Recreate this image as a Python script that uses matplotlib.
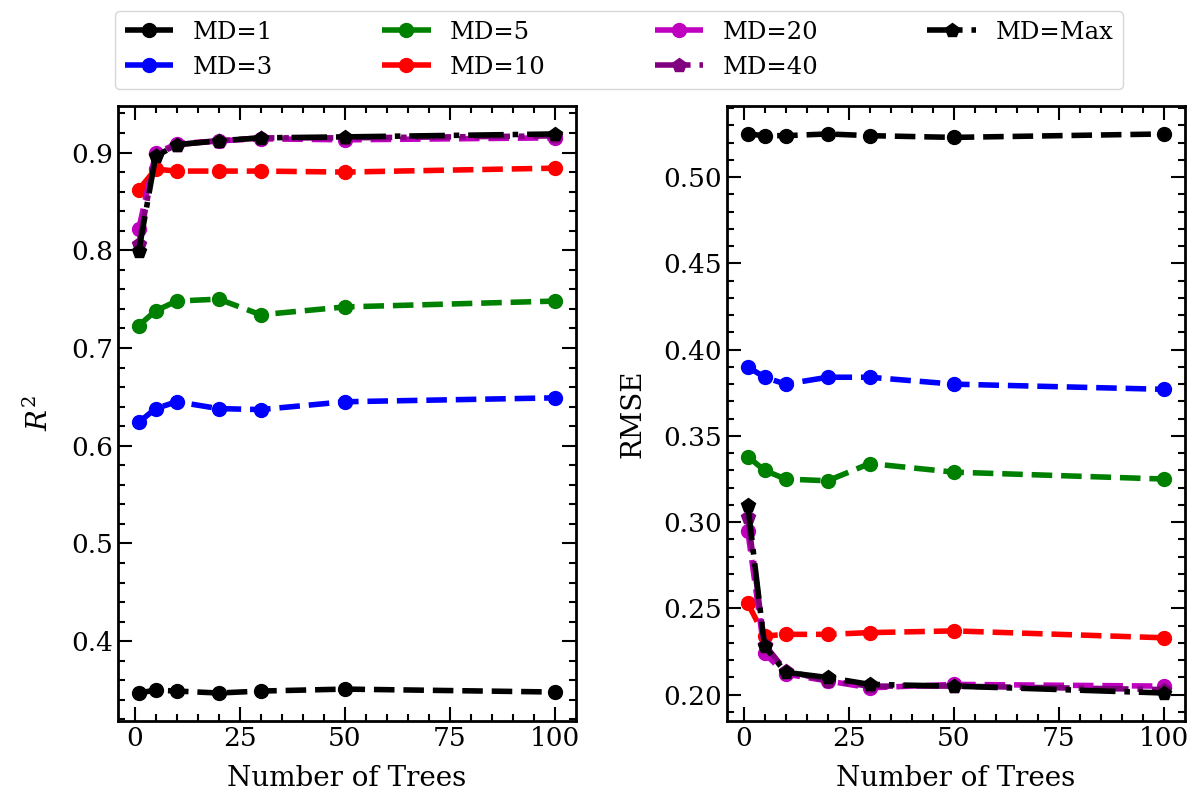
import matplotlib
matplotlib.use("Agg")
import matplotlib.pyplot as plt
from matplotlib.ticker import MultipleLocator

plt.rcParams['font.family'] = ['DejaVu Serif']
plt.rcParams['mathtext.fontset'] = 'dejavuserif'

n_trees = [1, 5, 10, 20, 30, 50, 100]
labels = ["MD=1", "MD=3", "MD=5", "MD=10", "MD=20", "MD=40", "MD=Max"]

r2_md1 = [0.347, 0.350, 0.349, 0.347, 0.349, 0.351, 0.348]
r2_md3 = [0.624, 0.638, 0.645, 0.638, 0.637, 0.645, 0.649]
r2_md5 = [0.723, 0.738, 0.748, 0.750, 0.734, 0.742, 0.748]
r2_md10 = [0.862, 0.883, 0.881, 0.881, 0.881, 0.880, 0.884]
r2_md20 = [0.822, 0.899, 0.909, 0.912, 0.914, 0.913, 0.915]
r2_md40 = [0.806, 0.897, 0.908, 0.912, 0.915, 0.915, 0.917]
r2_mdmax = [0.799, 0.896, 0.908, 0.912, 0.915, 0.916, 0.919]

rmse_md1 = [0.525, 0.524, 0.524, 0.525, 0.524, 0.523, 0.525]
rmse_md3 = [0.390, 0.384, 0.380, 0.384, 0.384, 0.380, 0.377]
rmse_md5 = [0.338, 0.330, 0.325, 0.324, 0.334, 0.329, 0.325]
rmse_md10 = [0.253, 0.234, 0.235, 0.235, 0.236, 0.237, 0.233]
rmse_md20 = [0.295, 0.224, 0.212, 0.208, 0.204, 0.206, 0.205]
rmse_md40 = [0.303, 0.229, 0.214, 0.208, 0.205, 0.205, 0.203]
rmse_mdmax = [0.310, 0.228, 0.213, 0.210, 0.206, 0.205, 0.201]

colors = ['black', 'blue', 'green', 'red', 'm', 'purple', 'black']
styles = ['--', '--', '--', '--', '--', '-.', '-.']
markers = ['o', 'o', 'o', 'o', 'o', 'p', 'p']

r2_all = [r2_md1, r2_md3, r2_md5, r2_md10, r2_md20, r2_md40, r2_mdmax]
rmse_all = [rmse_md1, rmse_md3, rmse_md5, rmse_md10, rmse_md20, rmse_md40, rmse_mdmax]

fig = plt.figure(figsize=(12, 8.06), dpi=100)
ax1 = fig.add_axes([0.0983, 0.1055, 0.3817, 0.763])
ax2 = fig.add_axes([0.6058, 0.1055, 0.3817, 0.763])

handles = []
for i in range(7):
    h, = ax1.plot(n_trees, r2_all[i], color=colors[i], ls=styles[i], marker=markers[i],
                  lw=4, ms=10, label=labels[i])
    ax2.plot(n_trees, rmse_all[i], color=colors[i], ls=styles[i], marker=markers[i],
             lw=4, ms=10)
    handles.append(h)

for ax in (ax1, ax2):
    ax.xaxis.set_major_locator(MultipleLocator(25))
    ax.xaxis.set_minor_locator(MultipleLocator(5))
    ax.tick_params(which='both', direction='in', top=True, right=True, labelsize=19, width=1.5)
    ax.tick_params(which='major', length=10)
    ax.tick_params(which='minor', length=5)
    for s in ax.spines.values():
        s.set_linewidth(2)
    ax.set_xlabel("Number of Trees", fontsize=20, labelpad=10)

ax1.yaxis.set_major_locator(MultipleLocator(0.1))
ax1.yaxis.set_minor_locator(MultipleLocator(0.02))
ax2.yaxis.set_major_locator(MultipleLocator(0.05))
ax2.yaxis.set_minor_locator(MultipleLocator(0.01))
ax1.set_ylabel(r"$R^2$", fontsize=20, labelpad=12)
ax2.set_ylabel("RMSE", fontsize=20, labelpad=12)

fig.legend(handles=handles, labels=labels, ncol=4, loc='upper left',
           bbox_to_anchor=(0.0958, 0.9864, 0.84, 0.0), mode='expand',
           fontsize=17.5, handlelength=2, borderaxespad=0.0)

fig.savefig("out.png", dpi=100)
